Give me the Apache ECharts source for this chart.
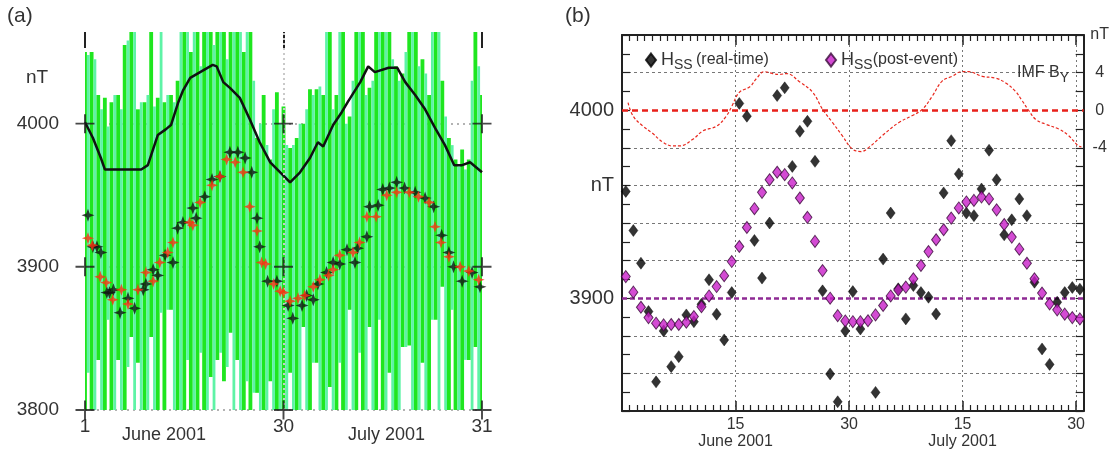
<!DOCTYPE html>
<html><head><meta charset="utf-8">
<script src="https://cdn.jsdelivr.net/npm/echarts@6/dist/echarts.min.js"></script>
<style>html,body{margin:0;padding:0;background:#fff}#c{width:1112px;height:450px}</style>
</head><body><div id="c"></div>
<script>
// ---------------- Panel (a) ----------------
const aTickX = [0, 30, 60];
const aTickLabels = ['1', '30', '31'];
const aTickY = [3800, 3900, 4000];

// green range lines (bright)
const brightT = [0,1,2,3,4,5,6,7,8,9,10,11,12,13,14,15,16,17,18,19,20,21,22,23,24,25,26,27,28,29,30,31,32,33,34,35,36,37,38,39,40,41,42,43,44,45,46,47,48,49,50,51,52,53,54,55,56,57,58,59,60];
const brightLow = [3800,3800,3835,3800,3800,3835,3800,3851,3833,3800,3851,3800,3800,3870,3800,3800,3800,3800,3800,3823,3835,3820,3854,3835,3800,3800,3812,3800,3820,3800,3800,3826,3800,3858,3800,3833,3800,3816,3800,3800,3870,3800,3800,3858,3800,3800,3826,3800,3844,3845,3800,3833,3800,3863,3886,3800,3800,3800,3835,3844,3800];
const brightHigh = [4050,4050,4020,4018,4015,4020,4055,4064,4010,4015,4064,4018,4015,4020,4030,4064,4050,4064,4064,4064,4064,4064,4064,4064,4050,4064,3990,4020,3975,4022,4012,3983,3990,4000,4024,4024,4020,4064,4020,4064,4005,4064,4064,4025,4064,4064,4064,4040,4035,4064,4064,4045,4020,4064,4030,3990,3975,3982,3975,4064,4020];
// green range lines (light)
const mintT = [0.5,1.5,2.5,3.5,4.5,5.5,6.5,7.5,8.5,9.5,10.5,11.5,12.5,13.5,14.5,15.5,16.5,17.5,18.5,19.5,20.5,21.5,22.5,23.5,24.5,25.5,26.5,27.5,28.5,29.5,30.5,31.5,32.5,33.5,34.5,35.5,36.5,37.5,38.5,39.5,40.5,41.5,42.5,43.5,44.5,45.5,46.5,47.5,48.5,49.5,50.5,51.5,52.5,53.5,54.5,55.5,56.5,57.5,58.5,59.5];
const mintLow = [3826,3800,3800,3863,3800,3800,3830,3800,3800,3800,3800,3868,3870,3800,3800,3835,3800,3840,3800,3800,3840,3830,3800,3800,3820,3812,3800,3800,3800,3800,3800,3800,3800,3800,3833,3800,3800,3800,3833,3800,3800,3840,3800,3800,3863,3800,3800,3800,3844,3800,3800,3800,3863,3800,3800,3870,3800,3835,3800,3800];
const mintHigh = [4048,4045,4010,3998,4020,4010,4058,4064,4015,4020,4012,4064,4020,4015,4064,4064,4064,4040,4064,4055,4064,4045,4064,4064,4064,4030,4000,3985,4010,4000,3985,3985,4000,4010,4020,4026,4064,4010,4064,4000,4030,4064,4020,4030,4064,4064,4045,4030,4050,4064,4040,4035,4064,4064,4005,3985,3970,3968,4030,4040];

// black curve
const lineT = [0,1.2,2.4,3.0,8.5,9.5,11.0,12.2,13.0,14.1,14.8,15.9,17.4,19.3,19.9,20.9,21.9,23.4,24.9,26.4,28.0,29.5,31.0,32.5,34.0,35.2,36.0,37.5,38.8,39.7,41.6,42.8,43.8,45.9,47.2,48.4,49.9,51.4,52.9,54.4,55.8,57.0,58.2,60.0];
const lineV = [4001,3990,3976,3968,3968,3971,3992,3996,3999,4015,4023,4032,4036,4041,4040,4029,4025,4018,4003,3987,3973,3966,3959,3966,3976,3987,3984,3999,4008,4015,4029,4040,4036,4039,4039,4029,4020,4010,3997,3985,3971,3971,3973,3966];

// black crosses
const blackT = [0.45,1.2,1.8,2.4,3.3,3.7,4.3,5.3,6.5,7.5,8.8,9.2,10.3,11.0,12.1,13.3,14.0,14.8,16.3,16.8,18.1,19.2,20.4,21.9,23.1,24.2,25.2,26.0,26.4,27.6,29.0,30.7,31.4,32.8,33.5,34.5,35.2,36.5,37.5,38.5,39.6,40.8,41.2,42.6,43.0,44.3,45.0,46.0,47.1,48.3,49.9,51.4,52.7,53.9,55.0,55.7,57.0,58.5,59.7];
const blackV = [3936,3914,3914,3910,3882,3882,3884,3868,3878,3871,3884,3888,3898,3894,3908,3903,3927,3931,3941,3934,3949,3961,3963,3980,3980,3976,3966,3934,3914,3890,3890,3873,3864,3873,3880,3877,3888,3896,3903,3902,3912,3903,3913,3921,3942,3943,3954,3955,3959,3955,3952,3948,3942,3922,3910,3900,3890,3896,3886];
// red crosses
const redT = [0.45,1.1,2.3,3.2,4.2,5.5,6.5,8.0,9.2,10.3,11.3,12.5,13.3,15.8,16.3,17.4,19.2,20.4,21.4,22.7,23.9,24.9,26.0,26.7,27.3,28.5,29.5,30.0,31.0,32.2,33.2,34.5,35.5,36.8,37.5,38.5,40.5,41.5,42.6,44.0,45.6,47.1,49.0,50.4,52.0,52.9,53.8,55.0,56.7,58.0,59.5];
const redV = [3920,3915,3893,3889,3877,3884,3874,3884,3896,3890,3903,3910,3917,3931,3929,3945,3957,3963,3975,3973,3966,3942,3925,3903,3902,3888,3883,3882,3876,3878,3880,3886,3891,3894,3898,3908,3910,3917,3935,3935,3950,3952,3952,3949,3945,3928,3917,3907,3900,3897,3891];

// ---------------- Panel (b) ----------------
const bTickVals = [15, 30, 45, 60];
const bTickLabels = ['15\n{m|June 2001}', '30', '15\n{m|July 2001}', '30'];
const bDays = [0.5,1.5,2.5,3.5,4.5,5.5,6.5,7.5,8.5,9.5,10.5,11.5,12.5,13.5,14.5,15.5,16.5,17.5,18.5,19.5,20.5,21.5,22.5,23.5,24.5,25.5,26.5,27.5,28.5,29.5,30.5,31.5,32.5,33.5,34.5,35.5,36.5,37.5,38.5,39.5,40.5,41.5,42.5,43.5,44.5,45.5,46.5,47.5,48.5,49.5,50.5,51.5,52.5,53.5,54.5,55.5,56.5,57.5,58.5,59.5,60.5];
const hssRealTime = [3956.8,3936,3918.6,3892.9,3855.5,3882.6,3863.6,3868.9,3891.1,3887.5,3896.8,3909.8,3891.5,3877.8,3903,4003.6,3996.8,3930.7,3910.7,3940,4007.8,4011.9,3970.1,3988.8,3994.1,3972.8,3903.9,3859.7,3844.9,3882.6,3903.5,3883.6,3839.6,3849.9,3920.8,3945.3,3905,3889,3906.7,3903,3900.5,3891.6,3956,3983.8,3966.1,3945.3,3943.9,3958.1,3978.7,3963,3933.7,3941.7,3952.8,3943.9,3908.5,3873,3864.8,3897.9,3903,3905.7,3904.8];
const hssPostEvent = [3911.5,3903.2,3895.2,3889.7,3886.7,3885.8,3886,3886,3887.2,3890.2,3895.5,3901.2,3906.2,3912,3919.5,3927.5,3937.6,3947.6,3956.3,3963,3967,3965.7,3961.3,3953.3,3943,3930.2,3914.7,3900,3890.7,3887.9,3887.5,3887.5,3888,3891.1,3896.1,3901.2,3904.4,3905.9,3910.3,3917.4,3924.8,3931.1,3936.4,3942.6,3948,3951.2,3952,3953.8,3952.8,3947,3939.2,3932.5,3926.1,3918.6,3910.3,3902.7,3897,3893.8,3891.5,3889.7,3889];
const imfT = [0.8,1.45,2.77,3.95,5.4,6.7,7.6,9.35,10.7,12.5,13.8,14.5,15.5,16.9,17.8,18.8,19.9,20.8,21.7,23.5,25.2,26.5,27.8,29.1,30.4,31.6,32.7,34.4,36.6,38.3,39.7,41.0,42.3,43.6,44.9,45.8,47.6,49.4,50.7,52.0,52.8,53.8,54.7,56.0,57.7,59.0,60.3,60.7];
const imfBy = [0.8,-0.6,-1.7,-2.4,-3.4,-3.8,-3.8,-3.1,-2.2,-1.7,-0.6,0.4,1.9,2.5,3.4,4.1,3.9,3.8,3.9,3.0,1.9,0.1,-1.3,-2.7,-4.1,-4.4,-3.9,-2.7,-1.3,-0.6,0.1,1.5,3.1,3.6,4.1,4.1,3.6,3.4,2.9,2.0,1.1,-0.1,-1.0,-1.5,-2.0,-2.7,-3.8,-3.9];
const leftLabelVals = [4000, 3960, 3900];
const leftLabelText = ['4000', 'nT', '3900'];
const rightLabelVals = [8, 4, 0, -4];
const rightLabelText = ['nT', '4', '0', '-4'];
const refHigh = 4000, refLow = 3900;

// ---------------- chart ----------------
const FONT = 'Liberation Sans, Arial, sans-serif';
const TXT = '#333';
const chart = echarts.init(document.getElementById('c'), null, {renderer: 'canvas'});

function makeRangeBar(widthDays) {
  return function (params, api) {
    const x = api.value(0);
    const top = api.coord([x, api.value(2)]);
    const bot = api.coord([x, api.value(1)]);
    const w = api.size([widthDays, 0])[0];
    return {type: 'rect', shape: {x: top[0] - w / 2, y: top[1], width: w, height: bot[1] - top[1]},
            style: {fill: api.visual('color')}};
  };
}
const zip2 = (a, b) => a.map((v, i) => [v, b[i]]);
const zip3 = (a, b, c) => a.map((v, i) => [v, b[i], c[i]]);
const crosses = [];
aTickX.forEach(x => aTickY.forEach(y => crosses.push([x, y])));

const starPath = 'path://M5,0L6.3,3.7L10,5L6.3,6.3L5,10L3.7,6.3L0,5L3.7,3.7Z';
const plusPath = 'path://M9,0H11V9H20V11H11V20H9V11H0V9H9Z';

const legendRich = {
  h: {fontSize: 18, fontFamily: FONT, color: TXT},
  s: {fontSize: 14, fontFamily: FONT, color: TXT, padding: [10, 0, 0, 0]},
  t: {fontSize: 16, fontFamily: FONT, color: TXT}
};
const gridTicksB = [3840,3860,3880,3900,3920,3940,3960,3980,4000,4020,4040];
const gridColorsB = gridTicksB.map(v => (v === refHigh || v === refLow) ? 'rgba(0,0,0,0)' : '#777');

const bAxisCommon = {
  gridIndex: 1, type: 'value', min: 0, max: 61, interval: 15,
  axisLine: {onZero: false, lineStyle: {color: '#222', width: 2}},
  axisTick: {inside: true, length: 10, lineStyle: {color: '#222', width: 1.5}},
  minorTick: {show: true, splitNumber: 15, length: 6, lineStyle: {color: '#222', width: 1.2}}
};

const option = {
  animation: false,
  backgroundColor: '#fff',
  textStyle: {fontFamily: FONT},
  grid: [
    {left: 85, top: 32, width: 397, height: 378},
    {left: 622, top: 35, width: 463, height: 376}
  ],
  legend: [
    {data: ['real-time'], left: 640, top: 46, icon: 'diamond', itemWidth: 10, itemHeight: 13, itemGap: 4,
     selectedMode: false, formatter: () => '{h|H}{s|SS} {t|(real-time)}', textStyle: {rich: legendRich}},
    {data: ['post-event'], left: 820, top: 46, icon: 'diamond', itemWidth: 10, itemHeight: 13, itemGap: 6,
     selectedMode: false, formatter: () => '{h|H}{s|SS}{t|(post-event)}', textStyle: {rich: legendRich}}
  ],
  xAxis: [
    {gridIndex: 0, type: 'value', min: 0, max: 60, position: 'bottom',
     axisLine: {show: false, onZero: false}, axisTick: {show: false, customValues: aTickX}, splitLine: {show: false},
     axisLabel: {customValues: aTickX, formatter: v => aTickLabels[aTickX.indexOf(v)] || '',
                 fontSize: 19, color: TXT, margin: 7}},
    {gridIndex: 0, type: 'value', min: 0, max: 60, position: 'top',
     axisLine: {show: false, onZero: false}, splitLine: {show: false}, axisLabel: {show: false},
     axisTick: {show: true, inside: true, length: 16, customValues: aTickX, lineStyle: {color: '#222', width: 2}}},
    Object.assign({}, bAxisCommon, {position: 'bottom',
     splitLine: {show: true, lineStyle: {color: '#777', type: [2, 3], width: 1}},
     axisLabel: {formatter: v => bTickLabels[bTickVals.indexOf(v)] || '', fontSize: 16, color: TXT,
                 margin: 5, lineHeight: 17, rich: {m: {fontSize: 16, color: TXT, lineHeight: 17}}}}),
    Object.assign({}, bAxisCommon, {position: 'top', splitLine: {show: false}, axisLabel: {show: false}})
  ],
  yAxis: [
    {gridIndex: 0, type: 'value', min: 3800, max: 4064,
     axisLine: {show: false, onZero: false}, axisTick: {show: false, customValues: aTickY},
     splitLine: {show: true, lineStyle: {color: '#999', type: [2, 4], width: 1.5}},
     axisLabel: {customValues: aTickY, formatter: v => String(v), fontSize: 19, color: TXT, margin: 26}},
    {gridIndex: 1, type: 'value', min: 3840, max: 4040, interval: 20, position: 'left',
     axisLine: {show: true, onZero: false, lineStyle: {color: '#222', width: 2}},
     axisTick: {inside: true, length: 8, lineStyle: {color: '#222', width: 1.2}},
     minorTick: {show: true, splitNumber: 2, length: 8, lineStyle: {color: '#222', width: 1.2}},
     splitLine: {show: true, lineStyle: {color: gridColorsB, type: [3, 3], width: 1}},
     axisLabel: {formatter: v => leftLabelText[leftLabelVals.indexOf(v)] || '', fontSize: 20, color: TXT, margin: 8}},
    {gridIndex: 1, type: 'value', min: -32, max: 8, interval: 4, position: 'right',
     axisLine: {show: true, onZero: false, lineStyle: {color: '#222', width: 2}},
     axisTick: {inside: true, length: 8, lineStyle: {color: '#222', width: 1.2}},
     minorTick: {show: true, splitNumber: 2, length: 8, lineStyle: {color: '#222', width: 1.2}},
     splitLine: {show: false},
     axisLabel: {formatter: v => rightLabelText[rightLabelVals.indexOf(v)] || '', fontSize: 16, color: TXT,
                 margin: 16, align: 'center'}}
  ],
  series: [
    {type: 'custom', name: 'range1', xAxisIndex: 0, yAxisIndex: 0, renderItem: makeRangeBar(0.58), clip: true,
     itemStyle: {color: '#1fe61f'}, data: zip3(brightT, brightLow, brightHigh), z: 1},
    {type: 'custom', name: 'range2', xAxisIndex: 0, yAxisIndex: 0, renderItem: makeRangeBar(0.42), clip: true,
     itemStyle: {color: '#5ef3a6'}, data: zip3(mintT, mintLow, mintHigh), z: 1},
    {type: 'line', name: 'curveA', xAxisIndex: 0, yAxisIndex: 0, data: zip2(lineT, lineV), symbol: 'none',
     lineStyle: {color: '#111', width: 2.5}, z: 3},
    {type: 'scatter', name: 'blackA', xAxisIndex: 0, yAxisIndex: 0, data: zip2(blackT, blackV), symbol: starPath,
     symbolSize: 13, itemStyle: {color: '#111'}, z: 6},
    {type: 'scatter', name: 'redA', xAxisIndex: 0, yAxisIndex: 0, data: zip2(redT, redV), symbol: starPath,
     symbolSize: 12, itemStyle: {color: '#ff2e12'}, z: 7},
    {type: 'scatter', name: 'axisCrossA', xAxisIndex: 0, yAxisIndex: 0, data: crosses, symbol: plusPath,
     symbolSize: 19, itemStyle: {color: '#1a1a1a'}, z: 8, silent: true,
     markLine: {silent: true, symbol: 'none', label: {show: false},
                lineStyle: {color: '#c9c9c9', type: [2, 3], width: 2}, data: [{xAxis: aTickX[1]}]}},
    // panel (b)
    {type: 'line', name: 'IMF By', xAxisIndex: 2, yAxisIndex: 2, data: zip2(imfT, imfBy), symbol: 'none', smooth: 0.4,
     lineStyle: {color: '#e8281e', width: 1.2, type: [3, 2]}, z: 3},
    {type: 'scatter', name: 'real-time', xAxisIndex: 2, yAxisIndex: 1, data: zip2(bDays, hssRealTime),
     symbol: 'diamond', symbolSize: [9, 12], itemStyle: {color: '#000', borderColor: '#000', borderWidth: 0.5}, z: 10,
     markLine: {silent: true, symbol: 'none', label: {show: false},
                data: [
                  {yAxis: refHigh, lineStyle: {color: '#e8201a', type: [6, 4], width: 2.5}},
                  {yAxis: refLow, lineStyle: {color: '#8e2a94', type: [5, 3], width: 2.5}}
                ]}},
    {type: 'scatter', name: 'post-event', xAxisIndex: 2, yAxisIndex: 1, data: zip2(bDays, hssPostEvent),
     symbol: 'diamond', symbolSize: [9, 12], itemStyle: {color: '#c81ec8', borderColor: '#3a0a3a', borderWidth: 1}, z: 11}
  ],
  graphic: [
    {type: 'text', left: 7, top: 6, style: {text: '(a)', fontSize: 21, fontFamily: FONT, fill: TXT}},
    {type: 'text', left: 565, top: 6, style: {text: '(b)', fontSize: 21, fontFamily: FONT, fill: TXT}},
    {type: 'text', left: 26, top: 68, style: {text: 'nT', fontSize: 19, fontFamily: FONT, fill: TXT}},
    {type: 'text', left: 122, top: 426, style: {text: 'June 2001', fontSize: 18, fontFamily: FONT, fill: TXT}},
    {type: 'text', left: 348, top: 426, style: {text: 'July 2001', fontSize: 18, fontFamily: FONT, fill: TXT}},
    {type: 'text', left: 1017, top: 65, z: 20, style: {text: '{a|IMF B}{b|Y}', fontFamily: FONT, fill: TXT,
      rich: {a: {fontSize: 16, fontFamily: FONT, fill: TXT}, b: {fontSize: 14, fontFamily: FONT, fill: TXT, padding: [11, 0, 0, 0]}}}}
  ]
};
chart.setOption(option);
</script>
</body></html>
